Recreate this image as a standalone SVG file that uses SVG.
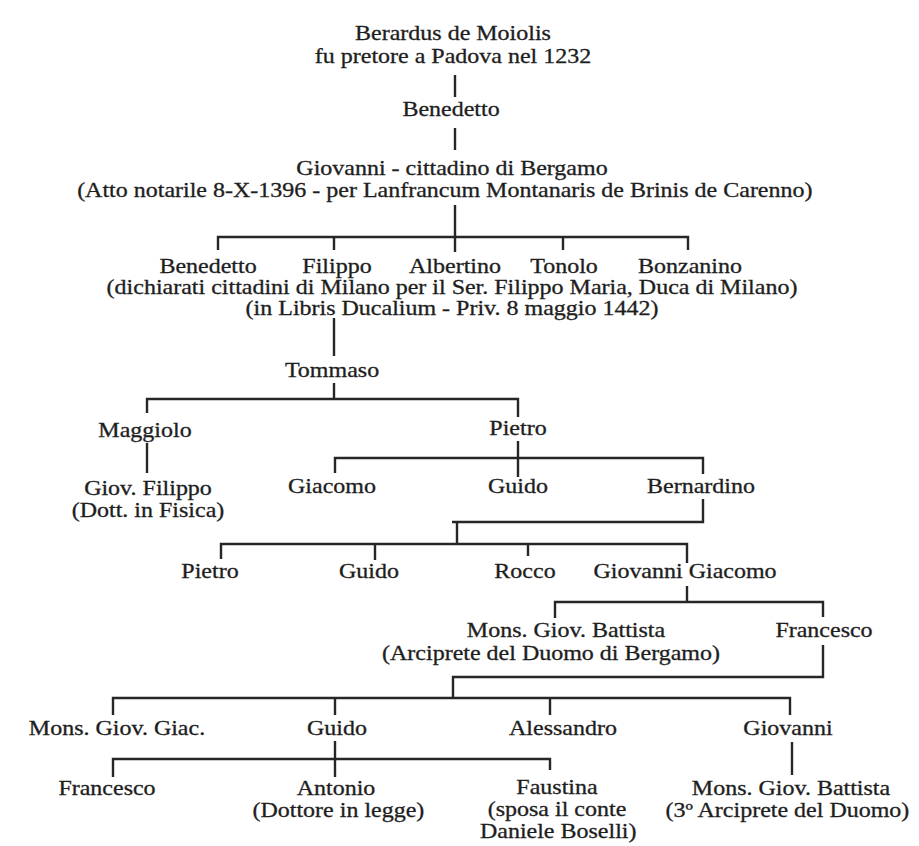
<svg xmlns="http://www.w3.org/2000/svg" width="919" height="846" viewBox="0 0 919 846">
<style>
text{font-family:"Liberation Serif","Times New Roman",serif;font-size:20px;fill:#1e1e1e;stroke:#1e1e1e;stroke-width:0.3;text-anchor:middle}
.ln{fill:none;stroke:#262626;stroke-width:2.4;stroke-linecap:butt;stroke-linejoin:miter}
</style>
<rect width="919" height="846" fill="#ffffff"/>
<g id="connectors">
<path class="ln" d="M455 75V97"/>
<path class="ln" d="M455 128V150"/>
<path class="ln" d="M455 205V252"/>
<path class="ln" d="M218 250V237H688V250"/>
<path class="ln" d="M334 237V250M563 237V250"/>
<path class="ln" d="M334 318V356"/>
<path class="ln" d="M334 383V399"/>
<path class="ln" d="M147 413V399H518V417"/>
<path class="ln" d="M147 443V473"/>
<path class="ln" d="M518 441V458"/>
<path class="ln" d="M335 473V458H703V474M518 458V477"/>
<path class="ln" d="M703 499V522H452M457 522V543"/>
<path class="ln" d="M221 559V544H687V563M375 544V560M528 544V556"/>
<path class="ln" d="M687 586V602"/>
<path class="ln" d="M555 618V602H823V617"/>
<path class="ln" d="M823 645V677H453V698"/>
<path class="ln" d="M113 715V698H790V715M335 698V715M550 698V715"/>
<path class="ln" d="M335 741V759"/>
<path class="ln" d="M113 777V759H550V770M335 759V777"/>
<path class="ln" d="M792 742V775"/>
</g>
<g id="n-berardus" transform="translate(453 0) scale(1.2 1)"><text x="0" y="40">Berardus de Moiolis</text><text x="0" y="63">fu pretore a Padova nel 1232</text></g>
<g id="n-benedetto" transform="translate(451 0) scale(1.2 1)"><text x="0" y="116">Benedetto</text></g>
<g id="n-giovanni" transform="translate(452 0) scale(1.2 1)"><text x="0" y="175">Giovanni - cittadino di Bergamo</text><text x="-6" y="197">(Atto notarile 8-X-1396 - per Lanfrancum Montanaris de Brinis de Carenno)</text></g>
<g id="n-benedetto2" transform="translate(208 0) scale(1.2 1)"><text x="0" y="273">Benedetto</text></g>
<g id="n-filippo" transform="translate(337 0) scale(1.2 1)"><text x="0" y="273">Filippo</text></g>
<g id="n-albertino" transform="translate(455 0) scale(1.2 1)"><text x="0" y="273">Albertino</text></g>
<g id="n-tonolo" transform="translate(564 0) scale(1.2 1)"><text x="0" y="273">Tonolo</text></g>
<g id="n-bonzanino" transform="translate(690 0) scale(1.2 1)"><text x="0" y="273">Bonzanino</text></g>
<g id="n-note-milano" transform="translate(452 0) scale(1.2 1)"><text x="0" y="294">(dichiarati cittadini di Milano per il Ser. Filippo Maria, Duca di Milano)</text><text x="0" y="315">(in Libris Ducalium - Priv. 8 maggio 1442)</text></g>
<g id="n-tommaso" transform="translate(332 0) scale(1.2 1)"><text x="0" y="377">Tommaso</text></g>
<g id="n-maggiolo" transform="translate(145 0) scale(1.2 1)"><text x="0" y="437">Maggiolo</text></g>
<g id="n-pietro" transform="translate(518 0) scale(1.2 1)"><text x="0" y="435">Pietro</text></g>
<g id="n-giovfilippo" transform="translate(148 0) scale(1.2 1)"><text x="0" y="495">Giov. Filippo</text><text x="0" y="517">(Dott. in Fisica)</text></g>
<g id="n-giacomo" transform="translate(332 0) scale(1.2 1)"><text x="0" y="493">Giacomo</text></g>
<g id="n-guido" transform="translate(518 0) scale(1.2 1)"><text x="0" y="493">Guido</text></g>
<g id="n-bernardino" transform="translate(701 0) scale(1.2 1)"><text x="0" y="493">Bernardino</text></g>
<g id="n-pietro2" transform="translate(210 0) scale(1.2 1)"><text x="0" y="578">Pietro</text></g>
<g id="n-guido2" transform="translate(369 0) scale(1.2 1)"><text x="0" y="578">Guido</text></g>
<g id="n-rocco" transform="translate(525 0) scale(1.2 1)"><text x="0" y="578">Rocco</text></g>
<g id="n-giovgiacomo" transform="translate(685 0) scale(1.2 1)"><text x="0" y="578">Giovanni Giacomo</text></g>
<g id="n-monsgb" transform="translate(566 0) scale(1.2 1)"><text x="0" y="637">Mons. Giov. Battista</text><text x="-12.5" y="660">(Arciprete del Duomo di Bergamo)</text></g>
<g id="n-francesco" transform="translate(824 0) scale(1.2 1)"><text x="0" y="637">Francesco</text></g>
<g id="n-monsgg" transform="translate(117 0) scale(1.2 1)"><text x="0" y="735">Mons. Giov. Giac.</text></g>
<g id="n-guido3" transform="translate(337 0) scale(1.2 1)"><text x="0" y="735">Guido</text></g>
<g id="n-alessandro" transform="translate(563 0) scale(1.2 1)"><text x="0" y="735">Alessandro</text></g>
<g id="n-giovanni2" transform="translate(788 0) scale(1.2 1)"><text x="0" y="735">Giovanni</text></g>
<g id="n-francesco2" transform="translate(107 0) scale(1.2 1)"><text x="0" y="795">Francesco</text></g>
<g id="n-antonio" transform="translate(336 0) scale(1.2 1)"><text x="0" y="795">Antonio</text><text x="2" y="817">(Dottore in legge)</text></g>
<g id="n-faustina" transform="translate(557 0) scale(1.2 1)"><text x="0" y="794">Faustina</text><text x="0" y="816">(sposa il conte</text><text x="1" y="838">Daniele Boselli)</text></g>
<g id="n-monsgb2" transform="translate(791 0) scale(1.2 1)"><text x="0" y="795">Mons. Giov. Battista</text><text x="-3" y="817">(3º Arciprete del Duomo)</text></g>
</svg>
